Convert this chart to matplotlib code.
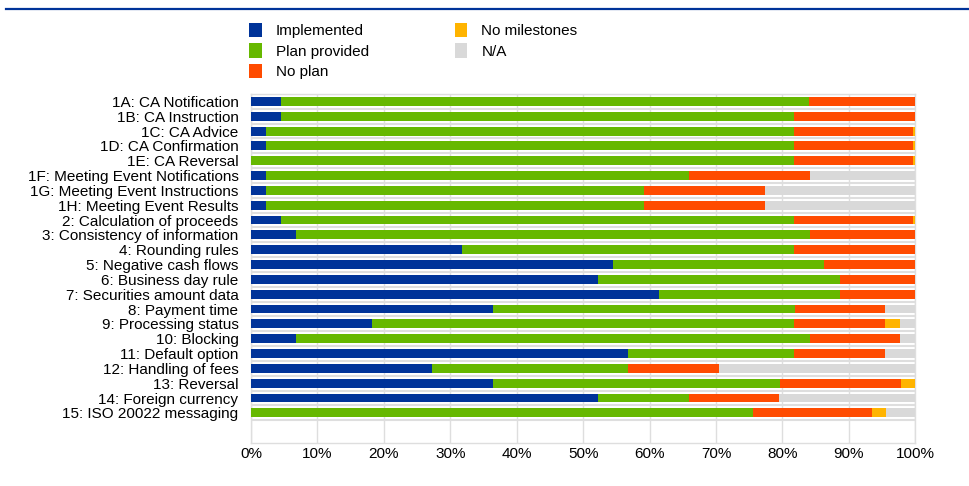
import matplotlib
matplotlib.use("Agg")
import matplotlib.pyplot as plt
from matplotlib.lines import Line2D
from matplotlib.ticker import FuncFormatter
import numpy as np

plt.rcParams['font.family'] = ['Liberation Sans', 'DejaVu Sans']

categories = [
    "1A: CA Notification", "1B: CA Instruction", "1C: CA Advice",
    "1D: CA Confirmation", "1E: CA Reversal",
    "1F: Meeting Event Notifications", "1G: Meeting Event Instructions",
    "1H: Meeting Event Results", "2: Calculation of proceeds",
    "3: Consistency of information", "4: Rounding rules",
    "5: Negative cash flows", "6: Business day rule",
    "7: Securities amount data", "8: Payment time", "9: Processing status",
    "10: Blocking", "11: Default option", "12: Handling of fees",
    "13: Reversal", "14: Foreign currency", "15: ISO 20022 messaging",
]

implemented = [4.5, 4.5, 2.3, 2.3, 0.0, 2.3, 2.3, 2.3, 4.5, 6.8, 31.8,
               54.5, 52.3, 61.4, 36.4, 18.2, 6.8, 56.8, 27.3, 36.4, 52.3, 0.0]
plan_provided = [79.5, 77.3, 79.5, 79.5, 81.8, 63.6, 56.8, 56.8, 77.3, 77.3, 50.0,
                 31.8, 36.4, 27.3, 45.5, 63.6, 77.3, 25.0, 29.5, 43.2, 13.6, 75.6]
no_plan = [15.9, 18.2, 17.9, 17.9, 17.9, 18.2, 18.2, 18.2, 17.9, 15.9, 18.2,
           13.6, 11.4, 11.4, 13.6, 13.6, 13.6, 13.6, 13.6, 18.2, 13.6, 17.8]
no_milestones = [0.0, 0.0, 0.3, 0.3, 0.3, 0.0, 0.0, 0.0, 0.3, 0.0, 0.0,
                 0.0, 0.0, 0.0, 0.0, 2.3, 0.0, 0.0, 0.0, 2.3, 0.0, 2.2]
not_applicable = [0.0, 0.0, 0.0, 0.0, 0.0, 15.9, 22.7, 22.7, 0.0, 0.0, 0.0,
                  0.0, 0.0, 0.0, 4.5, 2.3, 2.3, 4.5, 29.5, 0.0, 20.5, 4.4]

series = [
    ("Implemented", implemented, "#003399"),
    ("Plan provided", plan_provided, "#66B800"),
    ("No plan", no_plan, "#FF4B00"),
    ("No milestones", no_milestones, "#FFB400"),
    ("N/A", not_applicable, "#D9D9D9"),
]

fig = plt.figure(figsize=(9.7, 4.86), dpi=100)
ax = fig.add_axes([0.2587, 0.0895, 0.685, 0.7171])

y = np.arange(len(categories))
left = np.zeros(len(categories))
handles = []
for name, vals, col in series:
    vals = np.array(vals)
    b = ax.barh(y, vals, left=left, height=0.6, color=col, label=name,
                zorder=3, linewidth=0)
    handles.append(b)
    left = left + vals

ax.set_xlim(0, 100)
ax.set_ylim(23.0, -0.5)
ax.set_yticks(y)
ax.set_yticklabels(categories, fontsize=11)
ax.set_xticks(np.arange(0, 101, 10))
ax.xaxis.set_major_formatter(FuncFormatter(lambda v, p: f"{int(v)}%"))
ax.tick_params(axis='both', length=0, labelsize=11)
ax.tick_params(axis='y', pad=9)
ax.tick_params(axis='x', pad=3.5)

grid_col = "#DEDEDE"
for xv in np.arange(0, 101, 10):
    ax.axvline(xv, color=grid_col, lw=1.0, zorder=1)
for yb in np.arange(-0.5, len(categories), 1.0):
    ax.axhline(yb, color=grid_col, lw=1.5, zorder=1)
for s in ax.spines.values():
    s.set_color(grid_col)
    s.set_linewidth(1.0)

fig.legend(handles=handles, labels=[s[0] for s in series], ncol=2,
           loc='upper left', bbox_to_anchor=(0.257, 0.953), frameon=False,
           fontsize=11, handlelength=0.8, handleheight=1.05,
           handletextpad=0.95, columnspacing=5.6, labelspacing=0.35,
           borderaxespad=0, borderpad=0)

fig.add_artist(Line2D([0.006, 1.0], [1 - 8.7 / 486] * 2, color="#003399",
                      lw=1.6, transform=fig.transFigure))

fig.savefig("out.png", dpi=100)
